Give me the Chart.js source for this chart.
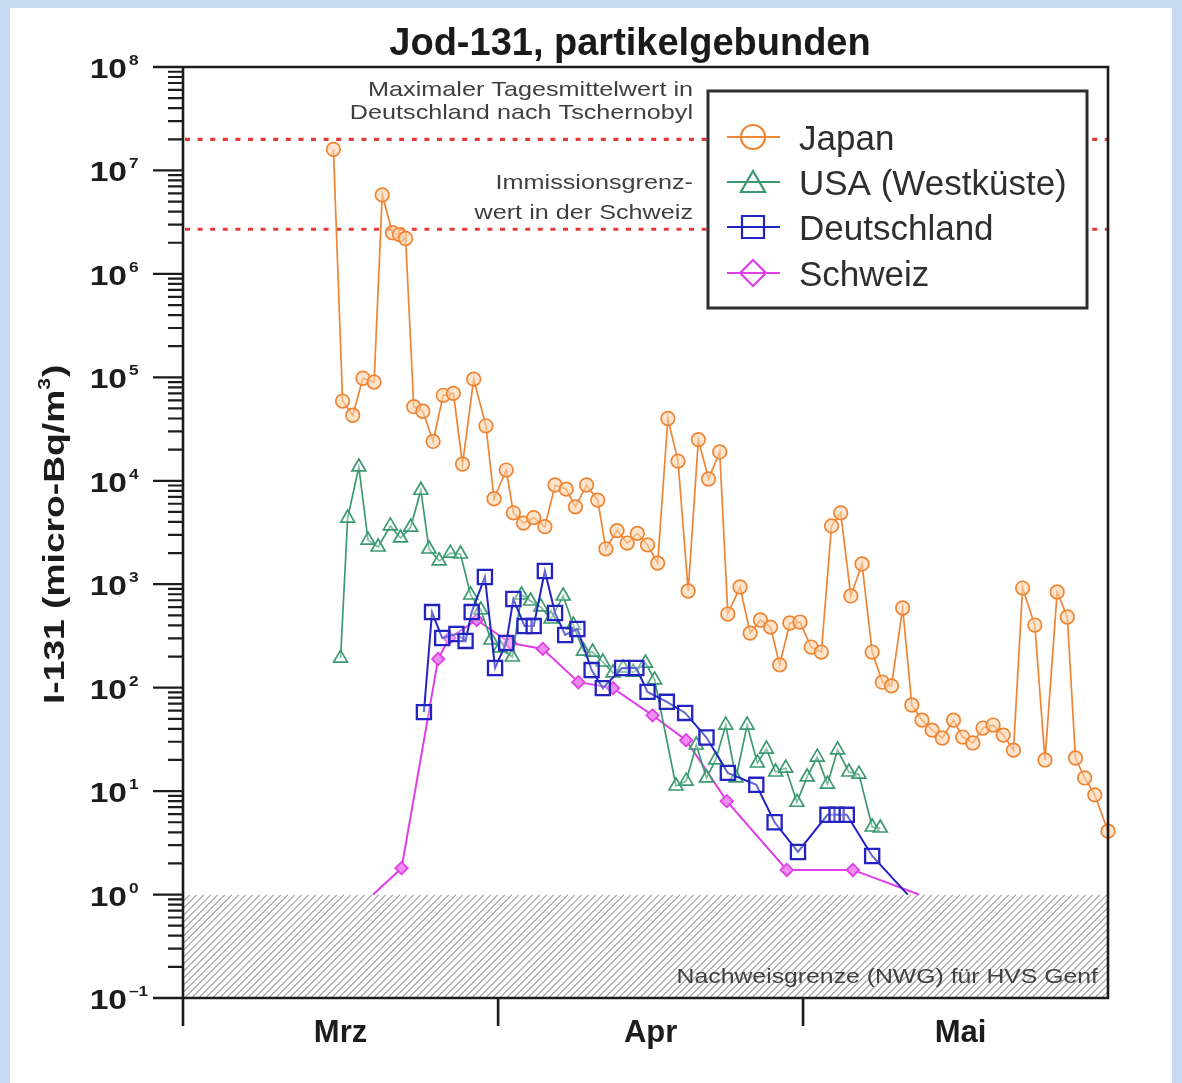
<!DOCTYPE html>
<html>
<head>
<meta charset="utf-8">
<script src="https://cdn.jsdelivr.net/npm/chart.js@4.4.1/dist/chart.umd.min.js"></script>
<style>
  html, body { margin: 0; padding: 0; background: #c7daf1; }
  #wrap { position: absolute; left: 0; top: 0; width: 1182px; height: 1083px; }
</style>
</head>
<body>
<div id="wrap"><canvas id="chart" width="1182" height="1083"></canvas></div>
<script>
// x values are days counted from 1 March 2011 (0 = 1 Mar, 31 = 1 Apr, 61 = 1 May)
const japanDays = [14.8, 15.7, 16.7, 17.7, 18.8, 19.6, 20.6, 21.3, 21.9, 22.7, 23.6, 24.6, 25.6, 26.6, 27.5,
  28.6, 29.8, 30.6, 31.8, 32.5, 33.5, 34.5, 35.6, 36.6, 37.7, 38.6, 39.7, 40.8, 41.6, 42.7, 43.7, 44.7,
  45.7, 46.7, 47.7, 48.7, 49.7, 50.7, 51.7, 52.8, 53.6, 54.8, 55.8, 56.8, 57.8, 58.7, 59.7, 60.7, 61.8,
  62.8, 63.8, 64.7, 65.7, 66.8, 67.8, 68.8, 69.7, 70.8, 71.7, 72.7, 73.7, 74.7, 75.8, 76.7, 77.7, 78.7,
  79.7, 80.7, 81.7, 82.6, 83.8, 84.8, 86.0, 87.0, 87.8, 88.7, 89.7, 91.0];
const japanValues = [1.6e7, 5.9e4, 4.3e4, 9.8e4, 9.0e4, 5.8e6, 2.5e6, 2.4e6, 2.2e6, 5.2e4, 4.7e4, 2.4e4, 6.7e4, 7.0e4, 1.45e4,
  9.6e4, 3.4e4, 6.7e3, 1.27e4, 4.9e3, 3.9e3, 4.4e3, 3.6e3, 9.1e3, 8.3e3, 5.6e3, 9.1e3, 6.5e3, 2.2e3, 3.3e3, 2.5e3, 3.1e3,
  2.4e3, 1.6e3, 4.0e4, 1.55e4, 860, 2.5e4, 1.04e4, 1.9e4, 515, 940, 337, 451, 385, 166, 422, 431, 247,
  221, 3660, 4900, 770, 1570, 221, 113, 104, 589, 68, 48.6, 38.9, 32.6, 48.6, 33.3, 29.2, 40.7,
  43.5, 34.8, 24.9, 918, 403, 20, 841, 482, 20.9, 13.4, 9.2, 4.1];

const usaDays = [15.5, 16.2, 17.3, 18.2, 19.2, 20.4, 21.4, 22.4, 23.4, 24.2, 25.2, 26.3, 27.3, 28.3, 29.3,
  30.3, 31.2, 32.4, 33.3, 34.2, 35.2, 36.2, 37.4, 38.4, 39.4, 40.3, 41.3, 42.3, 43.3, 44.3, 45.5, 46.4,
  48.5, 49.5, 50.5, 51.5, 52.4, 53.4, 54.4, 55.5, 56.5, 57.4, 58.3, 59.3, 60.4, 61.4, 62.4, 63.4, 64.4,
  65.5, 66.5, 67.8, 68.6];
const usaValues = [193, 4360, 13600, 2670, 2290, 3660, 2800, 3570, 8100, 2190, 1680, 2000, 1960, 787, 564,
  289, 242, 198, 787, 688, 603, 461, 769, 403, 226, 221, 177, 139, 155, 141, 173, 119,
  11.2, 12.5, 27.9, 13.4, 20, 43.5, 13.4, 43.5, 18.7, 25.5, 15.3, 16.7, 7.8, 13.7, 21.3, 11.7, 25,
  15.3, 14.6, 4.5, 4.4];

const germanyDays = [23.7, 24.5, 25.5, 26.9, 27.8, 28.4, 29.7, 30.7, 31.8, 32.5, 33.6, 34.5, 35.6, 36.6, 37.6,
  38.8, 40.2, 41.3, 43.2, 44.6, 45.7, 47.6, 49.4, 51.5, 53.6, 56.4, 58.2, 60.5, 63.4, 64.3, 65.3, 67.8, 71.3];
const germanyValues = [58, 538, 302, 330, 283, 538, 1175, 155, 270, 719, 394, 394, 1343, 527, 323,
  369, 148, 99, 155, 155, 91, 73, 57, 33, 15, 11.5, 5.0, 2.58, 5.9, 5.9, 5.9, 2.36, 1.0];

const swissDays = [18.7, 21.5, 25.1, 26.2, 28.9, 32.2, 35.4, 38.9, 42.3, 46.2, 49.5, 53.5, 59.4, 65.9, 72.4];
const swissValues = [1.0, 1.8, 189, 302, 451, 270, 237, 113, 99, 54, 31, 8.0, 1.73, 1.73, 1.0];

// axis and reference levels (micro-Bq/m3)
const monthStarts = [0, 31, 61];
const monthCenters = [15.5, 46, 76.5];
const monthLabels = ['Mrz', 'Apr', 'Mai'];
const xFirst = 0, xLast = 91;
const yLow = 0.1, yHigh = 1e8;
const decades = [-1, 0, 1, 2, 3, 4, 5, 6, 7, 8];
const chernobylMax = 2.0e7;
const swissLimit = 2.7e6;
const detectionLimit = 1;

const seriesNames = ['Japan', 'USA (Westküste)', 'Deutschland', 'Schweiz'];

const FONT = '"Liberation Sans", Arial, Helvetica, sans-serif';

function toPoints(days, values) {
  return days.map((d, i) => ({ x: d, y: values[i] }));
}

function text(ctx, s, x, y, font, color, align, sx, rot) {
  ctx.save();
  ctx.font = font;
  ctx.fillStyle = color;
  ctx.textAlign = align;
  ctx.textBaseline = 'alphabetic';
  ctx.translate(x, y);
  if (rot) ctx.rotate(rot);
  ctx.scale(sx || 1, 1);
  ctx.fillText(s, 0, 0);
  ctx.restore();
}

function marker(ctx, style, x, y, r, stroke, fill, lw) {
  ctx.save();
  ctx.strokeStyle = stroke;
  ctx.lineWidth = lw;
  ctx.beginPath();
  if (style === 'circle') {
    ctx.arc(x, y, r, 0, Math.PI * 2);
  } else if (style === 'triangle') {
    ctx.moveTo(x, y - r);
    ctx.lineTo(x + r * 0.866, y + r * 0.5);
    ctx.lineTo(x - r * 0.866, y + r * 0.5);
    ctx.closePath();
  } else if (style === 'rect') {
    ctx.rect(x - r, y - r, 2 * r, 2 * r);
  } else if (style === 'rectRot') {
    ctx.moveTo(x, y - r); ctx.lineTo(x + r, y); ctx.lineTo(x, y + r); ctx.lineTo(x - r, y);
    ctx.closePath();
  }
  if (fill) { ctx.fillStyle = fill; ctx.fill(); }
  ctx.stroke();
  ctx.restore();
}

const decor = {
  id: 'decor',
  beforeDraw(chart) {
    const ctx = chart.ctx;
    ctx.save();
    ctx.fillStyle = '#c7daf1';
    ctx.fillRect(0, 0, chart.width, chart.height);
    ctx.fillStyle = '#ffffff';
    ctx.fillRect(10, 8, chart.width - 20, chart.height - 8);
    ctx.restore();
  },
  beforeDatasetsDraw(chart) {
    const ctx = chart.ctx;
    const ca = chart.chartArea;
    const ys = chart.scales.y;

    // hatched band below the detection limit
    const yTop = ys.getPixelForValue(detectionLimit);
    const yBot = ys.getPixelForValue(yLow);
    ctx.save();
    ctx.beginPath();
    ctx.rect(ca.left, yTop, ca.right - ca.left, yBot - yTop);
    ctx.clip();
    ctx.strokeStyle = '#a3a3a3';
    ctx.lineWidth = 1.2;
    const h = yBot - yTop;
    ctx.beginPath();
    for (let k = ca.left - h; k < ca.right + 10; k += 7) {
      ctx.moveTo(k, yBot);
      ctx.lineTo(k + h, yTop);
    }
    ctx.stroke();
    ctx.restore();
    text(ctx, 'Nachweisgrenze (NWG) für HVS Genf', ca.right - 10, yBot - 15, '21px ' + FONT, '#3f3f3f', 'right', 1.18);

    // red dotted reference levels
    ctx.save();
    ctx.strokeStyle = '#e23a3a';
    ctx.lineWidth = 3.2;
    ctx.setLineDash([5, 7.6]);
    [chernobylMax, swissLimit].forEach(v => {
      const y = ys.getPixelForValue(v);
      ctx.beginPath();
      ctx.moveTo(ca.left + 2, y);
      ctx.lineTo(ca.right, y);
      ctx.stroke();
    });
    ctx.restore();

    const ax = 693;
    const f = '21px ' + FONT;
    const c = '#3f3f3f';
    const yc = ys.getPixelForValue(chernobylMax);
    const yl = ys.getPixelForValue(swissLimit);
    text(ctx, 'Maximaler Tagesmittelwert in', ax, yc - 43, f, c, 'right', 1.2);
    text(ctx, 'Deutschland nach Tschernobyl', ax, yc - 20, f, c, 'right', 1.2);
    text(ctx, 'Immissionsgrenz-', ax, yl - 40, f, c, 'right', 1.2);
    text(ctx, 'wert in der Schweiz', ax, yl - 10, f, c, 'right', 1.2);
  },
  afterDatasetsDraw(chart) {
    const ctx = chart.ctx;
    const ca = chart.chartArea;
    const ys = chart.scales.y;
    const xs = chart.scales.x;
    const ink = '#1c1c1c';

    // frame
    ctx.save();
    ctx.strokeStyle = ink;
    ctx.lineWidth = 2.6;
    ctx.beginPath();
    ctx.moveTo(ca.left - 30, ca.top); ctx.lineTo(ca.right, ca.top);
    ctx.lineTo(ca.right, ca.bottom); ctx.lineTo(ca.left - 30, ca.bottom);
    ctx.moveTo(ca.left, ca.top); ctx.lineTo(ca.left, ca.bottom + 28);
    monthStarts.slice(1).forEach(d => {
      const x = xs.getPixelForValue(d);
      ctx.moveTo(x, ca.bottom); ctx.lineTo(x, ca.bottom + 28);
    });
    ctx.stroke();

    // log ticks on the y axis
    ctx.lineWidth = 2.2;
    ctx.beginPath();
    decades.forEach(e => {
      const y = ys.getPixelForValue(Math.pow(10, e));
      ctx.moveTo(ca.left - 30, y); ctx.lineTo(ca.left, y);
      if (e < 8) {
        for (let m = 2; m <= 9; m++) {
          const ym = ys.getPixelForValue(m * Math.pow(10, e));
          ctx.moveTo(ca.left - 15, ym); ctx.lineTo(ca.left, ym);
        }
      }
    });
    ctx.stroke();
    ctx.restore();

    // decade labels
    decades.forEach(e => {
      const y = ys.getPixelForValue(Math.pow(10, e));
      text(ctx, '10', 127, y + 11, 'bold 28px ' + FONT, ink, 'right', 1.2);
      text(ctx, String(e).replace('-', '\u2013'), 129, y - 2, 'bold 15px ' + FONT, ink, 'left', 1.15);
    });

    // y axis title
    text(ctx, 'I-131 (micro-Bq/m', 64, 704, 'bold 30px ' + FONT, ink, 'left', 1.24, -Math.PI / 2);
    ctx.save();
    ctx.font = 'bold 30px ' + FONT;
    const w = ctx.measureText('I-131 (micro-Bq/m').width * 1.24;
    ctx.restore();
    text(ctx, '3', 50, 704 - w, 'bold 17px ' + FONT, ink, 'left', 1.24, -Math.PI / 2);
    ctx.save();
    ctx.font = 'bold 17px ' + FONT;
    const w3 = ctx.measureText('3').width * 1.24;
    ctx.restore();
    text(ctx, ')', 64, 704 - w - w3 - 1, 'bold 30px ' + FONT, ink, 'left', 1.24, -Math.PI / 2);

    // title
    text(ctx, 'Jod-131, partikelgebunden', 630, 55, 'bold 38px ' + FONT, '#1a1a1a', 'center', 1);

    // legend
    const lx = 708, ly = 91, lw = 379, lh = 217;
    ctx.save();
    ctx.fillStyle = '#ffffff';
    ctx.fillRect(lx, ly, lw, lh);
    ctx.strokeStyle = '#2e2e2e';
    ctx.lineWidth = 3;
    ctx.strokeRect(lx, ly, lw, lh);
    ctx.restore();
    const rows = [137, 182, 227, 273];
    const legendSize = { circle: 12, triangle: 14, rect: 11, rectRot: 13 };
    chart.data.datasets.forEach((ds, i) => {
      const y = rows[i];
      ctx.save();
      ctx.strokeStyle = ds.borderColor;
      ctx.lineWidth = 2;
      ctx.beginPath();
      ctx.moveTo(727, y); ctx.lineTo(780, y);
      ctx.stroke();
      ctx.restore();
      const ty = ds.pointStyle === 'triangle' ? y + 3 : y;
      marker(ctx, ds.pointStyle, 753, ty, legendSize[ds.pointStyle], ds.borderColor, null, 2.2);
      text(ctx, ds.label, 799, y + 13, '35px ' + FONT, '#2e2e2e', 'left', 1);
    });
  }
};

const hideAtLimit = (r) => (c) => (c.raw && c.raw.y <= detectionLimit ? 0 : r);

new Chart(document.getElementById('chart'), {
  type: 'line',
  data: {
    datasets: [
      {
        label: seriesNames[0],
        data: toPoints(japanDays, japanValues),
        borderColor: '#ee8534',
        backgroundColor: 'rgba(252,210,170,0.6)',
        pointStyle: 'circle',
        pointRadius: 6.8,
        pointBorderWidth: 1.7,
        borderWidth: 1.7,
        order: 1,
        clip: 12
      },
      {
        label: seriesNames[1],
        data: toPoints(usaDays, usaValues),
        borderColor: '#3c9a70',
        backgroundColor: 'rgba(255,255,255,0.35)',
        pointStyle: 'triangle',
        pointRadius: 8,
        pointBorderWidth: 1.7,
        borderWidth: 1.7,
        order: 2,
        clip: 12
      },
      {
        label: seriesNames[2],
        data: toPoints(germanyDays, germanyValues),
        borderColor: '#2323c2',
        backgroundColor: 'rgba(255,255,255,0.3)',
        pointStyle: 'rect',
        pointRadius: hideAtLimit(10),
        pointBorderWidth: 2.3,
        borderWidth: 2,
        order: 0,
        clip: 12
      },
      {
        label: seriesNames[3],
        data: toPoints(swissDays, swissValues),
        borderColor: '#e03ee6',
        backgroundColor: '#ef8cef',
        pointStyle: 'rectRot',
        pointRadius: hideAtLimit(6.2),
        pointBorderWidth: 1.8,
        borderWidth: 2,
        order: 3,
        clip: 12
      }
    ]
  },
  options: {
    responsive: false,
    animation: false,
    devicePixelRatio: 1,
    layout: { padding: { left: 0, right: 74, top: 67, bottom: 0 } },
    plugins: {
      legend: { display: false },
      title: { display: false },
      tooltip: { enabled: false }
    },
    elements: { line: { tension: 0 } },
    scales: {
      x: {
        type: 'linear',
        min: xFirst,
        max: xLast,
        grid: { display: false, drawTicks: false },
        border: { display: false },
        ticks: {
          autoSkip: false,
          maxRotation: 0,
          padding: 17,
          color: '#1c1c1c',
          font: { family: FONT, size: 31, weight: 'bold' },
          callback: (v) => monthLabels[monthCenters.indexOf(v)] || ''
        },
        afterBuildTicks: (s) => { s.ticks = monthCenters.map(v => ({ value: v })); },
        afterFit: (s) => { s.height = 85; }
      },
      y: {
        type: 'logarithmic',
        min: yLow,
        max: yHigh,
        grid: { display: false, drawTicks: false },
        border: { display: false },
        ticks: { display: false },
        afterFit: (s) => { s.width = 183; }
      }
    }
  },
  plugins: [decor]
});
</script>
</body>
</html>
